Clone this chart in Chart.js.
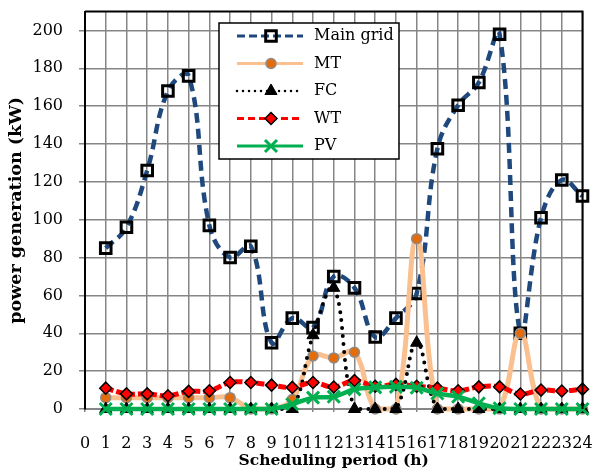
<!DOCTYPE html>
<html>
<head>
<meta charset="UTF-8">
<title>Power generation</title>
<style>
  body { margin: 0; background: #fff; }
  canvas { display: block; }
</style>
</head>
<body>
<canvas id="powerChart" width="594" height="473"></canvas>
<script src="https://cdn.jsdelivr.net/npm/chart.js/dist/chart.umd.min.js"></script>
<script>
// hours of the scheduling period
const hours = [1,2,3,4,5,6,7,8,9,10,11,12,13,14,15,16,17,18,19,20,21,22,23,24];

// power of each source (kW)
const mainGrid = [85,96,126,168,176,97,80,86,35,48,43,70,64,38,48,61,137.5,160.5,172.5,198,40,101,121,112.5];
const mt       = [6,6,6,6,6,6,6,0,0,5,28,27,30,0,0,90,0,0,0,0,40,0,0,0];
const fc       = [0,0,0,0,0,0,0,0,0,0,39,64,0,0,0,35,0,0,0,0,0,0,0,0];
const wt       = [11,8,8,7,9.3,9.6,14,14,12.6,11.4,14,11.6,15,12,13,12,11,9.6,11.7,11.7,7.9,10,9.5,10.5];
const pv       = [0,0,0,0,0,0,0,0,0,2.5,6,6.5,10.4,11.4,11.7,11.2,8.2,6.5,3,0.4,0,0,0,0];

const xTicks = [0,1,2,3,4,5,6,7,8,9,10,11,12,13,14,15,16,17,18,19,20,21,22,23,24];
const yTicks = [0,20,40,60,80,100,120,140,160,180,200];

const seriesNames = ['Main grid', 'MT', 'FC', 'WT', 'PV'];

function pts(values) {
  return hours.map((h, i) => ({ x: h, y: values[i] }));
}

const serif = "'DejaVu Serif', serif";

// plot border (top/right) and the boxed legend inside the plot
const frameAndLegend = {
  id: 'frameAndLegend',
  afterDatasetsDraw(chart) {
    const ctx = chart.ctx;
    const a = chart.chartArea;
    ctx.save();
    ctx.strokeStyle = '#000';
    ctx.lineWidth = 2;
    ctx.beginPath();
    ctx.moveTo(a.left, a.top);
    ctx.lineTo(a.right, a.top);
    ctx.lineTo(a.right, a.bottom);
    ctx.stroke();

    // legend box
    const bx = 219, by = 23, bw = 180, bh = 136;
    ctx.fillStyle = '#fff';
    ctx.fillRect(bx, by, bw, bh);
    ctx.lineWidth = 1.5;
    ctx.strokeRect(bx, by, bw, bh);

    chart.data.datasets.forEach((ds, i) => {
      const y = 36 + i * 27.5;
      ctx.save();
      ctx.strokeStyle = ds.borderColor;
      ctx.lineWidth = ds.legendWidth || ds.borderWidth;
      ctx.lineCap = ds.borderCapStyle || 'butt';
      ctx.setLineDash(ds.legendDash || []);
      ctx.beginPath();
      ctx.moveTo(237, y);
      ctx.lineTo(303, y);
      ctx.stroke();
      ctx.restore();

      ctx.save();
      ctx.fillStyle = ds.pointBackgroundColor;
      ctx.strokeStyle = ds.pointBorderColor;
      ctx.lineWidth = ds.pointBorderWidth;
      Chart.helpers.drawPoint(ctx, {
        pointStyle: ds.pointStyle,
        radius: ds.pointRadius,
        rotation: 0,
        borderWidth: ds.pointBorderWidth
      }, 271, y);
      ctx.restore();

      ctx.fillStyle = '#000';
      ctx.font = '16px ' + serif;
      ctx.textBaseline = 'middle';
      ctx.textAlign = 'left';
      ctx.fillText(ds.label, 314, y);
    });
    ctx.restore();
  }
};

new Chart(document.getElementById('powerChart'), {
  type: 'line',
  data: {
    datasets: [
      {
        label: seriesNames[0],
        data: pts(mainGrid),
        order: 5,
        borderColor: '#1F497D',
        borderWidth: 4.5,
        borderDash: [10, 6],
        legendDash: [8, 4],
        legendWidth: 3,
        pointStyle: 'rect',
        pointRadius: 7.5,
        pointBackgroundColor: 'rgba(255,255,255,0)',
        pointBorderColor: '#000',
        pointBorderWidth: 3
      },
      {
        label: seriesNames[1],
        data: pts(mt),
        order: 4,
        borderColor: '#FAC090',
        borderWidth: 5,
        legendWidth: 3,
        pointStyle: 'circle',
        pointRadius: 5,
        pointBackgroundColor: '#E46C0A',
        pointBorderColor: '#8C8C8C',
        pointBorderWidth: 1.5
      },
      {
        label: seriesNames[2],
        data: pts(fc),
        order: 3,
        borderColor: '#000',
        borderWidth: 4,
        borderDash: [0, 8],
        legendDash: [0, 6],
        legendWidth: 2.5,
        borderCapStyle: 'round',
        pointStyle: 'triangle',
        pointRadius: 7,
        pointBackgroundColor: '#000',
        pointBorderColor: '#000',
        pointBorderWidth: 1
      },
      {
        label: seriesNames[3],
        data: pts(wt),
        order: 2,
        borderColor: '#FF0000',
        borderWidth: 5,
        borderDash: [8, 3],
        legendDash: [7, 4],
        legendWidth: 3,
        pointStyle: 'rectRot',
        pointRadius: 6,
        pointBackgroundColor: '#FF0000',
        pointBorderColor: '#000',
        pointBorderWidth: 1.5
      },
      {
        label: seriesNames[4],
        data: pts(pv),
        order: 1,
        borderColor: '#00B050',
        borderWidth: 4.5,
        legendWidth: 3,
        pointStyle: 'crossRot',
        pointRadius: 8.5,
        pointBackgroundColor: '#00B050',
        pointBorderColor: '#00B050',
        pointBorderWidth: 3
      }
    ]
  },
  options: {
    responsive: false,
    animation: false,
    devicePixelRatio: 1,
    layout: { padding: { top: 10, right: 11, left: 0, bottom: 0 } },
    elements: { line: { tension: 0.4 } },
    datasets: { line: { clip: false } },
    plugins: {
      legend: { display: false },
      tooltip: { enabled: false }
    },
    scales: {
      x: {
        type: 'linear',
        min: 0,
        max: 24,
        afterBuildTicks: (s) => { s.ticks = xTicks.map(v => ({ value: v })); },
        afterFit: (s) => { s.height = 64; s.paddingLeft = 0; s.paddingRight = 0; },
        ticks: {
          autoSkip: false,
          maxRotation: 0,
          padding: 22,
          color: '#000',
          font: { family: serif, size: 16 }
        },
        grid: { color: '#868686', lineWidth: 1.5, tickLength: 3 },
        border: { color: '#868686', width: 2 },
        title: {
          display: true,
          text: 'Scheduling period (h)',
          color: '#000',
          font: { family: serif, size: 15.5, weight: 'bold' },
          padding: { top: 0, bottom: 3 }
        }
      },
      y: {
        min: 0,
        max: 210,
        afterBuildTicks: (s) => { s.ticks = yTicks.map(v => ({ value: v })); },
        afterFit: (s) => { s.width = 85; s.paddingTop = 0; s.paddingBottom = 0; },
        ticks: {
          padding: 16,
          color: '#000',
          font: { family: serif, size: 16 }
        },
        grid: { color: '#868686', lineWidth: 1.5, tickLength: 6 },
        border: { color: '#000', width: 2 },
        title: {
          display: true,
          text: 'power generation (kW)',
          color: '#000',
          font: { family: serif, size: 17.5, weight: 'bold' },
          padding: { top: 6, bottom: 0 }
        }
      }
    }
  },
  plugins: [frameAndLegend]
});
</script>
</body>
</html>
